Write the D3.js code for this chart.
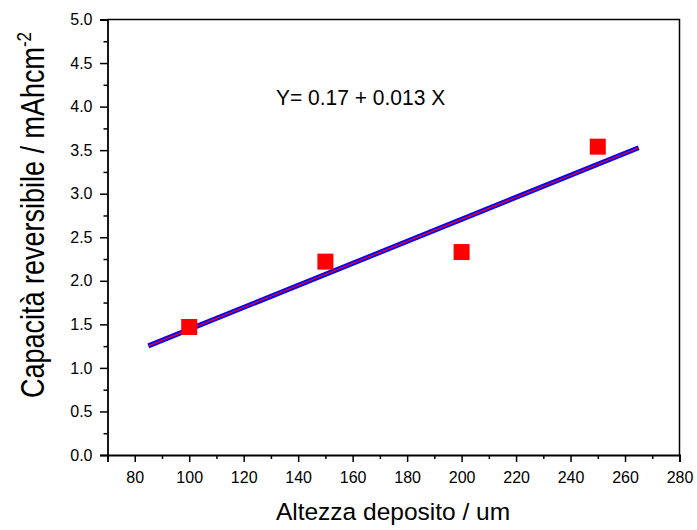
<!DOCTYPE html>
<html><head><meta charset="utf-8">
<script src="https://cdn.jsdelivr.net/npm/d3@7"></script>
<style>body{margin:0;background:#fff}svg{display:block}text{font-family:"Liberation Sans",Arial,sans-serif}</style>
</head><body><svg id="c" width="697" height="530"></svg>
<script>
const heights = [100, 150, 200, 250];
const capacities = [1.47, 2.22, 2.33, 3.54];
const xTicks = [80, 100, 120, 140, 160, 180, 200, 220, 240, 260, 280];
const yTicks = [0, 0.5, 1.0, 1.5, 2.0, 2.5, 3.0, 3.5, 4.0, 4.5, 5.0];
const fitRange = [85, 265];
const equation = "Y= 0.17 + 0.013 X";

const svg = d3.select("#c");
const m = {l: 107.5, r: 679.5, t: 19.5, b: 455};
const x = d3.scaleLinear().domain([70, 280]).range([m.l, m.r]);
const y = d3.scaleLinear().domain([0, 5]).range([m.b, m.t]);

// regression
const mx = d3.mean(heights), my = d3.mean(capacities);
const slope = d3.sum(heights, (h, i) => (h - mx) * (capacities[i] - my)) / d3.sum(heights, h => (h - mx) ** 2);
const icpt = my - slope * mx;

// frame
svg.append("path").attr("d", `M${m.l},${m.t}H${m.r}V${m.b}`).attr("fill", "none").attr("stroke", "#000").attr("stroke-width", 1.5);

// x axis
const xAxis = svg.append("g").attr("transform", `translate(0,${m.b})`)
  .call(d3.axisBottom(x).tickValues(xTicks).tickSize(7).tickPadding(10).tickFormat(d3.format("d")));
svg.append("g").attr("transform", `translate(0,${m.b})`)
  .call(d3.axisBottom(x).tickValues(d3.range(70, 281, 10).filter(v => !xTicks.includes(v))).tickSize(4).tickFormat(""))
  .call(g => g.select(".domain").remove());
// y axis
const yAxis = svg.append("g").attr("transform", `translate(${m.l},0)`)
  .call(d3.axisLeft(y).tickValues(yTicks).tickSize(7.5).tickPadding(7.5).tickFormat(d3.format(".1f")));
svg.append("g").attr("transform", `translate(${m.l},0)`)
  .call(d3.axisLeft(y).tickValues(d3.range(0.25, 5, 0.5)).tickSize(4).tickFormat(""))
  .call(g => g.select(".domain").remove());

svg.selectAll(".domain").attr("stroke-width", 1.8).attr("stroke", "#000");
svg.selectAll(".tick line").attr("stroke-width", 1.5).attr("stroke", "#000");
svg.selectAll(".tick text").attr("font-size", 16).attr("fill", "#000").style("font-family", '"Liberation Sans",Arial,sans-serif');

// fit line
const fitPts = fitRange.map(v => [x(v), y(icpt + slope * v)]);
svg.append("path").attr("d", d3.line()(fitPts)).attr("stroke", "#0000ff").attr("stroke-width", 5).attr("fill", "none");
svg.append("path").attr("d", d3.line()(fitPts)).attr("stroke", "#ff0000").attr("stroke-width", 1.2).attr("fill", "none");

// markers
const s = 16;
svg.selectAll("rect.pt").data(heights).enter().append("rect")
  .attr("x", (d) => x(d) - s / 2).attr("y", (d, i) => y(capacities[i]) - s / 2)
  .attr("width", s).attr("height", s).attr("fill", "#ff0000");

// equation
svg.append("text").attr("x", 276).attr("y", 105).attr("font-size", 21)
  .attr("transform", "translate(276,105) scale(1,1.08) translate(-276,-105)").text(equation);

// axis titles
svg.append("text").attr("x", 393).attr("y", 520).attr("text-anchor", "middle").attr("font-size", 24.5).text("Altezza deposito / um");
const yt = svg.append("text").attr("transform", `translate(43.5,${215}) rotate(-90) scale(1,1.22)`).attr("text-anchor", "middle").attr("font-size", 27);
yt.append("tspan").text("Capacità reversibile / mAhcm");
yt.append("tspan").attr("dy", -10).attr("font-size", 17).text("-2");
</script></body></html>
